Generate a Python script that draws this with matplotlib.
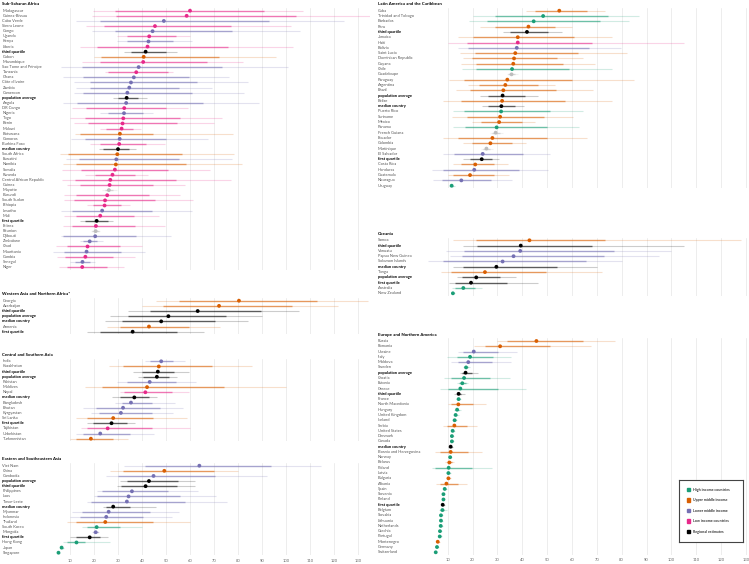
# regional estimates by country, dot + 50% / 95% interval bars

import matplotlib.pyplot as plt
from matplotlib.transforms import blended_transform_factory
from matplotlib.patches import Rectangle

plt.rcParams['font.family'] = ['Lato', 'DejaVu Sans']

# group codes: H high income, U upper middle, L lower middle, W low income,
# R regional estimate, N no income group
ssa_names = ["Madagascar", "Guinea-Bissau", "Cabo Verde", "Sierra Leone", "Congo", "Uganda", "Kenya",
             "Liberia", "third quartile", "Gabon", "Mozambique", "Sao Tome and Principe", "Tanzania",
             "Ghana", "Côte d'Ivoire", "Zambia", "Cameroon", "population average", "Angola", "DR Congo",
             "Nigeria", "Togo", "Benin", "Malawi", "Botswana", "Comoros", "Burkina Faso", "median country",
             "South Africa", "Eswatini", "Namibia", "Somalia", "Rwanda", "Central African Republic",
             "Guinea", "Mayotte", "Burundi", "South Sudan", "Ethiopia", "Lesotho", "Mali", "first quartile",
             "Eritrea", "Réunion", "Djibouti", "Zimbabwe", "Chad", "Mauritania", "Gambia", "Senegal", "Niger"]
ssa_group = list("WWLWLWLWRUWLWLLLLRLWLWWWULWRULUWWWWNWWWLWRWNLLWLWLW")
ssa_value = [60.0, 58.6, 49.1, 45.4, 44.4, 43.0, 42.7, 42.3, 41.5, 40.7, 40.5, 38.6, 37.6, 36.6, 35.4, 34.7,
             33.9, 33.6, 33.4, 32.6, 32.5, 32.2, 31.9, 31.5, 30.8, 30.7, 30.5, 30.0, 29.7, 29.3, 29.1, 28.7,
             27.7, 26.8, 26.5, 26.2, 25.5, 24.6, 24.4, 23.4, 22.6, 21.1, 20.8, 20.7, 20.5, 18.2, 17.3, 16.9,
             16.4, 15.2, 15.1]
ssa_lo95 = [19.4, 19, 12.5, 16.6, 19, 29.4, 29.4, 14, 32.5, 20, 15.2, 6.2, 24.5, 7.2, 11.6, 12.7, 11.6, 28,
            6.9, 11, 22.5, 10, 11.6, 22.5, 12, 10.4, 18.3, 22, 5.8, 8.3, 7.2, 6.5, 16.2, 6.5, 8.6, 23.2, 7.6,
            7.5, 17.2, 6.2, 7.6, 14.1, 6.9, 18.6, 6.2, 14.1, 4.1, 3, 4.4, 10, 5.5]
ssa_lo50 = [28.7, 29, 22.5, 24, 28.7, 33.6, 33.6, 21.4, 35.4, 23, 22.5, 14.8, 26, 15.5, 18.3, 18.3, 15.5,
            30.1, 13, 16.6, 26, 16.2, 17.6, 25, 14.1, 16.2, 22.5, 23.9, 9.3, 13.7, 12.7, 14.4, 20.4, 12,
            14.1, 24.6, 12.5, 11.6, 19.4, 10.7, 12.3, 16.2, 10.7, 19.3, 7.2, 15.5, 8.6, 7.6, 7.9, 12, 8.6]
ssa_hi50 = [91, 104, 93, 77, 77.5, 54, 53, 76, 49.8, 72, 67, 73.4, 51, 59.7, 63, 55.4, 60.7, 38.4, 65.5,
            50.2, 40.5, 56, 54.4, 36.4, 44.7, 50.2, 41.5, 34.6, 56.5, 55.4, 58.3, 50.7, 37, 54, 44.7, 28,
            43, 45.4, 31.1, 44.3, 36.6, 26, 37, 22, 37.5, 21.1, 30.8, 31.2, 28, 18.3, 25.5]
ssa_hi95 = [107, 135, 124, 102, 106, 60, 61, 103, 54.4, 96, 82, 100.7, 53, 76.2, 84, 69.3, 82.6, 41.9,
            88.6, 59, 44.7, 73.3, 69.8, 39.4, 78, 67.6, 49.6, 37.7, 78.4, 77.7, 81.6, 68.3, 42.6, 77.2,
            57.9, 29.4, 55.8, 61.4, 35, 61, 47.2, 28, 49.6, 22.7, 52, 23.9, 40.2, 41.2, 37, 20.4, 32.6]

wana_names = ["Georgia", "Azerbaijan", "third quartile", "population average", "median country",
              "Armenia", "first quartile"]
wana_group = list("UURRRUR")
wana_value = [80.4, 72.1, 63.2, 51, 48, 42.9, 36.1]
wana_lo95 = [45.7, 39.8, 34.3, 26.6, 24.6, 25.5, 17.2]
wana_lo50 = [55.4, 48.9, 43.3, 34, 31.5, 30.8, 22.5]
wana_hi50 = [113, 102.5, 89.6, 75.2, 70.5, 59.7, 54.4]
wana_hi95 = [134, 121.8, 105.4, 90, 84, 72.7, 65.7]

csa_names = ["India", "Kazakhstan", "third quartile", "population average", "Pakistan", "Maldives",
             "Nepal", "median country", "Bangladesh", "Bhutan", "Kyrgyzstan", "Sri Lanka",
             "first quartile", "Tajikistan", "Uzbekistan", "Turkmenistan"]
csa_group = list("LURRLUWRLLLURWLU")
csa_value = [48, 47, 46.6, 46.2, 43.2, 42.1, 41.4, 36.8, 35.4, 32.1, 31.2, 28, 27.3, 25.7, 22.6, 18.7]
csa_lo95 = [41.2, 26.4, 36.4, 38.4, 29.4, 16.2, 30.8, 27.3, 28.7, 15.5, 18.6, 12.7, 17.2, 14.4, 12.7, 10.2]
csa_lo50 = [43.3, 32.2, 40.1, 40.5, 33.6, 23.2, 32.5, 30.8, 31.5, 20.8, 22, 16.9, 19.7, 17.2, 15.5, 12.5]
csa_hi50 = [53, 69.3, 53.4, 51.2, 54, 74.3, 52.6, 42.9, 44, 47.5, 44, 44.7, 33.6, 44, 35, 28]
csa_hi95 = [58, 86, 59.4, 54.4, 62.3, 100, 59.7, 46.1, 53.7, 57.2, 53, 58.9, 37, 60, 45.1, 34.3]

esea_names = ["Viet Nam", "China", "Cambodia", "population average", "third quartile", "Philippines",
              "Laos", "Timor-Leste", "median country", "Myanmar", "Indonesia", "Thailand", "South Korea",
              "Mongolia", "first quartile", "Hong Kong", "Japan", "Singapore"]
esea_group = list("LULRRLLLRLLUHLRHHH")
esea_value = [63.9, 49.3, 44.8, 42.9, 41.5, 35.8, 34.4, 33.7, 28, 26.1, 25.1, 24.7, 21.1, 20.7, 18.2,
              12.7, 6.5, 5.2]
esea_lo95 = [32.5, 26.6, 25, 30.8, 29.4, 21.1, 20, 17.2, 23.6, 10.7, 10.2, 8.6, 14.8, 19, 10, 7.2, 5.8, 4.6]
esea_lo50 = [41.2, 32.2, 30.1, 33.6, 31.2, 23.2, 21.1, 18.6, 25.2, 14.8, 14.1, 12.7, 17.2, 19.7, 12.7,
             8.6, 6.0, 4.8]
esea_hi50 = [93.6, 70, 70.5, 54.8, 54.4, 50.9, 55.8, 58, 35, 43.3, 40.5, 44.7, 30.8, 21.5, 22.5, 16.2,
             7.0, 5.6]
esea_hi95 = [114.4, 80, 92, 62, 62, 63.2, 70.8, 75.5, 45.8, 55.5, 52.3, 60.2, 39.8, 22.2, 25.9, 26.6,
             7.3, 5.8]

lac_names = ["Cuba", "Trinidad and Tobago", "Barbados", "Peru", "third quartile", "Jamaica", "Haiti",
             "Bolivia", "Saint Lucia", "Dominican Republic", "Guyana", "Chile", "Guadeloupe", "Paraguay",
             "Argentina", "Brazil", "population average", "Belize", "median country", "Puerto Rico",
             "Suriname", "Mexico", "Panama", "French Guiana", "Ecuador", "Colombia", "Martinique",
             "El Salvador", "first quartile", "Costa Rica", "Honduras", "Guatemala", "Nicaragua", "Uruguay"]
lac_group = list("UHHURUWLUUUHNUUURURHUUHNUUNLRULULH")
lac_value = [54.9, 48.4, 44.6, 42.5, 41.9, 38.2, 38.2, 37.8, 37.2, 36.7, 36.4, 35.9, 35.7, 34, 33.2, 32.4,
             32.1, 31.9, 31.6, 31.5, 31.1, 30.7, 29.7, 29.3, 28, 27.2, 25.6, 24.1, 23.7, 21.1, 20.7, 19,
             15.5, 11.6]
lac_lo95 = [41.4, 20.3, 18.6, 23, 32.4, 14.3, 10.3, 14.3, 15, 16.3, 15.4, 15.9, 33.7, 10.5, 18, 13.2, 23,
            8.3, 23.7, 12.3, 11.9, 19.7, 12.3, 27, 8.3, 16.3, 23.4, 8.3, 16.3, 12.3, 3.8, 10, 4.2, 10.5]
lac_lo50 = [45.1, 29, 25.7, 29, 35.1, 20.3, 17.6, 18.3, 21, 19.7, 21.4, 21.4, 34.4, 16.7, 22.6, 19, 26.1,
            15.4, 26.4, 16.7, 17.6, 23.4, 17, 27.7, 14.3, 19.9, 24.3, 12.7, 19, 15.4, 8.3, 12.3, 7.6, 11.0]
lac_hi50 = [66.2, 74.6, 71.3, 53.2, 50.5, 61, 68, 67, 62.3, 53.9, 56.5, 59, 37.1, 59.9, 46.2, 53.6, 41.1,
            57.2, 37.1, 51.2, 48.9, 39.8, 49.8, 31, 49.8, 35.8, 27, 40.4, 27.7, 28.8, 38.7, 28.8, 27.4, 12.3]
lac_hi95 = [73.3, 87, 83, 59.9, 55.9, 76.2, 105, 79.7, 82, 64.6, 69.3, 76, 38.4, 85, 53.2, 68.6, 46.5,
            76.2, 40.7, 64.6, 60.6, 45.1, 62.8, 32.4, 65.9, 41.4, 28.4, 51.2, 30.7, 34.1, 50.5, 34.7, 35.8, 13]

oce_names = ["Samoa", "third quartile", "Vanuatu", "Papua New Guinea", "Solomon Islands", "median country",
             "Tonga", "population average", "first quartile", "Australia", "New Zealand"]
oce_group = list("URLLLRURRHH")
oce_value = [42.9, 39.4, 39.2, 36.5, 32.1, 29.6, 25, 21.5, 19.4, 16.3, 12.1]
oce_lo95 = [12.3, 16.3, 9.2, 11, 2, 12.3, 7.2, 13.6, 10.5, 11.6, 11.3]
oce_lo50 = [21.4, 22, 16.7, 15.9, 8, 16.3, 11.3, 15.9, 13, 13, 11.6]
oce_hi50 = [73.3, 68, 77, 73, 65.5, 53.9, 49.6, 31.1, 33.7, 21, 12.6]
oce_hi95 = [128, 105, 100, 95, 80, 70, 72, 37.5, 46.5, 23.7, 12.9]

eur_names = ["Russia", "Romania", "Ukraine", "Italy", "Moldova", "Sweden", "population average", "Croatia",
             "Estonia", "Greece", "third quartile", "France", "North Macedonia", "Hungary", "United Kingdom",
             "Iceland", "Serbia", "United States", "Denmark", "Canada", "median country",
             "Bosnia and Herzegovina", "Norway", "Belarus", "Poland", "Latvia", "Bulgaria", "Albania",
             "Spain", "Slovenia", "Finland", "first quartile", "Belgium", "Slovakia", "Lithuania",
             "Netherlands", "Czechia", "Portugal", "Montenegro", "Germany", "Switzerland"]
eur_group = list("UULHLHRHHHRHUHHHUHHHRUHUHHUUHHHRHHHHHHUHH")
eur_value = [45.7, 31.1, 20.5, 19, 18.3, 17.4, 17.2, 16.6, 15.9, 15.1, 14.4, 14.4, 14.3, 13.8, 13.2, 12.8,
             12.7, 12, 11.7, 11.7, 11.2, 11.2, 11, 10.7, 10.4, 10.3, 10.3, 9.5, 8.8, 8.3, 8.3, 8, 7.9, 7.3,
             7.3, 7.2, 6.9, 6.8, 6, 5.7, 5.2]
eur_lo95 = [29.7, 20.7, 14, 9.6, 11.3, 16, 15, 8.7, 13.6, 6.9, 12.7, 13.5, 10.3, 12.5, 12.2, 11.8, 8.3,
            11.2, 10.9, 10.9, 10.3, 4.9, 10.2, 9, 3.8, 9.5, 9.3, 5.3, 8.0, 7.6, 7.6, 7.3, 6.6, 6.6, 6.6,
            6.5, 6.2, 6.1, 5.3, 5.0, 4.6]
eur_lo50 = [33.7, 25, 16.3, 13.6, 14.3, 16.6, 15.9, 11.3, 14.6, 10.3, 13.6, 13.9, 11.3, 13, 12.6, 12.2,
            9.6, 11.5, 11.2, 11.2, 10.7, 6.9, 10.5, 9.6, 4.9, 9.8, 9.7, 6.9, 8.4, 7.9, 7.9, 7.6, 7.1, 6.9,
            6.9, 6.8, 6.5, 6.4, 5.6, 5.3, 4.9]
eur_hi50 = [64.6, 51.2, 30.4, 28.4, 28, 18.2, 19.7, 27, 17.2, 30.4, 15.4, 14.9, 20, 14.6, 13.8, 13.4,
            17.6, 12.5, 12.2, 12.2, 11.8, 18, 11.5, 11.9, 19.9, 10.8, 11, 14, 9.2, 8.7, 8.7, 8.5, 8.7, 7.7,
            7.7, 7.6, 7.3, 7.2, 6.4, 6.1, 5.5]
eur_hi95 = [77.3, 67.7, 37.8, 35.5, 35.5, 18.8, 22.3, 35.1, 18.3, 41.4, 17, 15.4, 25.4, 15.5, 14.4, 13.8,
            21.7, 12.9, 12.6, 12.6, 12.3, 23.7, 11.9, 12.7, 28, 11.2, 11.5, 17.6, 9.7, 9.1, 9.1, 8.9, 9.6,
            8.1, 8.1, 8, 7.7, 7.6, 6.8, 6.5, 5.9]

legend_labels = ["High income countries", "Upper middle income", "Lower middle income",
                 "Low income countries", "Regional estimates"]
legend_groups = ["H", "U", "L", "W", "R"]

colors = {"H": "#1b9e77", "U": "#d95f02", "L": "#7570b3", "W": "#e7298a", "R": "#000000", "N": "#bdbdbd"}

W, H = 749, 564
fig = plt.figure(figsize=(W / 100, H / 100), dpi=100)
fs = 2.9


def panel(col, first_row, last_row, title, names, groups, vals, lo95, lo50, hi50, hi95, ticks=False):
    if col == 0:
        x0, scale, xmax, label_x = 46, 2.40, 135, 2.5
    else:
        x0, scale, xmax, label_x = 422.8, 2.486, 131, 377.5
    n = len(names)
    step = (last_row - first_row) / (n - 1)
    top = first_row - step / 2
    bottom = last_row + step / 2
    ax = fig.add_axes([x0 / W, 1 - bottom / H, xmax * scale / W, (bottom - top) / H])
    ax.set_xlim(0, xmax)
    ax.set_ylim(n - 0.5, -0.5)
    ax.set_xticks(range(10, 140, 10))
    ax.grid(axis="x", color="#e6e6e6", lw=0.5)
    ax.set_axisbelow(True)
    for s in ax.spines.values():
        s.set_visible(False)
    ax.set_yticks([])
    ax.tick_params(axis="x", length=0, labelsize=fs, labelcolor="#666666", pad=2.5)
    if not ticks:
        ax.set_xticklabels([])

    ys = list(range(n))
    cols = [colors[g] for g in groups]
    ax.hlines(ys, lo95, hi95, colors=cols, alpha=0.2, lw=0.8)
    ax.hlines(ys, lo50, hi50, colors=cols, alpha=0.55, lw=1.0)
    ax.scatter(vals, ys, c=cols, s=7.5, lw=0, zorder=3)

    tr = blended_transform_factory(fig.transFigure, ax.transData)
    for i, name in enumerate(names):
        reg = groups[i] == "R"
        ax.text(label_x / W, i, name, transform=tr, ha="left", va="center", fontsize=fs,
                color="black" if reg else "#555555", fontweight="bold" if reg else "normal")
    fig.text(label_x / W, 1 - (first_row - 6.3) / H, title, ha="left", va="center",
             fontsize=fs + 0.3, fontweight="bold")
    return ax


panel(0, 10.7, 267.0, "Sub-Saharan Africa", ssa_names, ssa_group, ssa_value,
      ssa_lo95, ssa_lo50, ssa_hi50, ssa_hi95)
panel(0, 300.7, 331.7, "Western Asia and Northern Africa*", wana_names, wana_group, wana_value,
      wana_lo95, wana_lo50, wana_hi50, wana_hi95)
panel(0, 361.3, 438.7, "Central and Southern Asia", csa_names, csa_group, csa_value,
      csa_lo95, csa_lo50, csa_hi50, csa_hi95)
panel(0, 465.7, 552.7, "Eastern and Southeastern Asia", esea_names, esea_group, esea_value,
      esea_lo95, esea_lo50, esea_hi50, esea_hi95, ticks=True)
panel(1, 10.7, 185.7, "Latin America and the Caribbean", lac_names, lac_group, lac_value,
      lac_lo95, lac_lo50, lac_hi50, lac_hi95)
panel(1, 240.3, 293.3, "Oceania", oce_names, oce_group, oce_value,
      oce_lo95, oce_lo50, oce_hi50, oce_hi95)
panel(1, 341.0, 552.3, "Europe and Northern America", eur_names, eur_group, eur_value,
      eur_lo95, eur_lo50, eur_hi50, eur_hi95, ticks=True)

# legend box
lx0, ly0, lw_, lh = 679, 480, 64, 62
lax = fig.add_axes([lx0 / W, 1 - (ly0 + lh) / H, lw_ / W, lh / H])
lax.set_xlim(0, lw_)
lax.set_ylim(lh, 0)
lax.set_xticks([])
lax.set_yticks([])
lax.set_facecolor("white")
for s in lax.spines.values():
    s.set_color("#444444")
    s.set_linewidth(0.8)
for i, (lab, g) in enumerate(zip(legend_labels, legend_groups)):
    yy = 9.5 + i * 10.5
    lax.add_patch(Rectangle((7.5, yy - 1.6), 3.2, 3.2, color=colors[g]))
    lax.text(14, yy, lab, fontsize=fs - 0.3, fontweight="bold", va="center", ha="left", color="#333333")

fig.savefig("out.png", dpi=100)
